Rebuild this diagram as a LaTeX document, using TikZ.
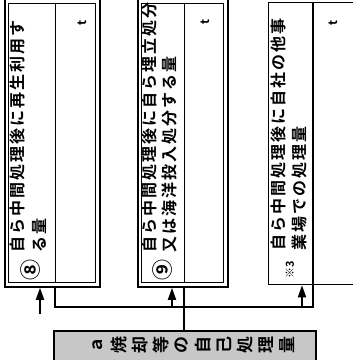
\documentclass[tikz,border=0pt]{standalone}
\usepackage{fontspec}
\usetikzlibrary{arrows.meta}
\newfontfamily\jpfont{Noto Sans CJK JP}[BoldFont={Noto Sans CJK JP Bold}]
\makeatletter
\newcommand\lsp[1]{\@tfor\@lspc:=#1\do{\@lspc\kern2pt}}
\makeatother
\tikzset{
  outerline/.style={draw, line width=1.8pt, inner sep=0pt, anchor=north west},
  innerline/.style={draw, line width=0.9pt, inner sep=0pt, anchor=north west},
  conn/.style={line width=1.8pt},
  arr/.style={conn, -{Triangle[width=8pt,length=12pt]}},
  lbl/.style={rotate=90, anchor=west, inner sep=0pt, font=\jpfont\bfseries\fontsize{16}{16}\selectfont},
  num/.style={rotate=90, inner sep=0pt, font=\jpfont\bfseries\fontsize{21}{21}\selectfont},
  unit/.style={rotate=90, inner sep=0pt, font=\jpfont\bfseries\fontsize{12}{12}\selectfont},
  bchar/.style={rotate=90, inner sep=0pt, font=\jpfont\bfseries\fontsize{17}{17}\selectfont},
}
\begin{document}
\begin{tikzpicture}[x=1pt,y=-1pt]
\useasboundingbox (0,0) rectangle (353,360);
% box 1
\node[outerline, minimum width=95pt, minimum height=288pt] (b1o) at (4,-2) {};
\node[innerline, minimum width=87pt, minimum height=279pt] (b1i) at (8,3) {};
\coordinate (d1) at (55,0);
\draw[line width=0.9pt] (d1 |- b1i.north) -- (d1 |- b1i.south);
% box 2
\node[outerline, minimum width=90pt, minimum height=288pt] (b2o) at (137,-2) {};
\node[innerline, minimum width=82pt, minimum height=279pt] (b2i) at (141,3) {};
\coordinate (d2) at (184,0);
\draw[line width=0.9pt] (d2 |- b2i.north) -- (d2 |- b2i.south);
% box 3
\node[draw, line width=1.3pt, inner sep=0pt, anchor=north west, minimum width=110pt, minimum height=282pt] (b3) at (268,2) {};
\coordinate (d3) at (313,0);
\draw[line width=1.1pt] (d3 |- b3.north) -- (d3 |- b3.south);
% bottom box
\node[draw, line width=2.2pt, fill=black!22, inner sep=0pt, anchor=north west, minimum width=262pt, minimum height=45pt] (bot) at (53,330) {};
% connectors
\coordinate (busL) at (55,307);
\coordinate (busR) at (313,307);
\draw[conn] (d1 |- b1o.south) -- (busL) -- (busR) -- (d3 |- b3.south);
\draw[conn] (d2 |- b2o.south) -- (d2 |- bot.north);
\coordinate (a1) at (40,314);
\coordinate (a2) at (172,307);
\coordinate (a3) at (302,307);
\draw[arr] (a1) -- (a1 |- b1o.south);
\draw[arr] (a2) -- (a2 |- b2o.south);
\draw[arr] (a3) -- (a3 |- b3.south);
% texts box 1
\node[lbl] (t11) at (17.5,253) {\lsp{自ら中間処理後に再生利用す}};
\node[lbl] (t12) at (39.5,253) {\lsp{る量}};
\node[num] (n8) at (31,270) {⑧};
\node[unit] (u1) at (82,23) {t};
% texts box 2
\node[lbl] (t21) at (149,253) {\lsp{自ら中間処理後に自ら埋立処分}};
\node[lbl] (t22) at (169,253) {\lsp{又は海洋投入処分する量}};
\node[num] (n9) at (163,270) {⑨};
\node[unit] (u2) at (205,22) {t};
% texts box 3
\node[lbl] (t31) at (278,251) {\lsp{自ら中間処理後に自社の他事}};
\node[lbl] (t32) at (299,251) {\lsp{業場での処理量}};
\node[rotate=90, inner sep=0pt, font=\jpfont\bfseries\fontsize{11}{11}\selectfont] (k3) at (290,270) {※3};
\node[unit] (u3) at (333,23) {t};
% bottom text
\foreach \c [count=\i] in {ａ,焼,却,等,の,自,己,処,理,量}
  \node[bchar] (c\i) at ({98+21*(\i-1)},345) {\c};
\end{tikzpicture}
\end{document}
